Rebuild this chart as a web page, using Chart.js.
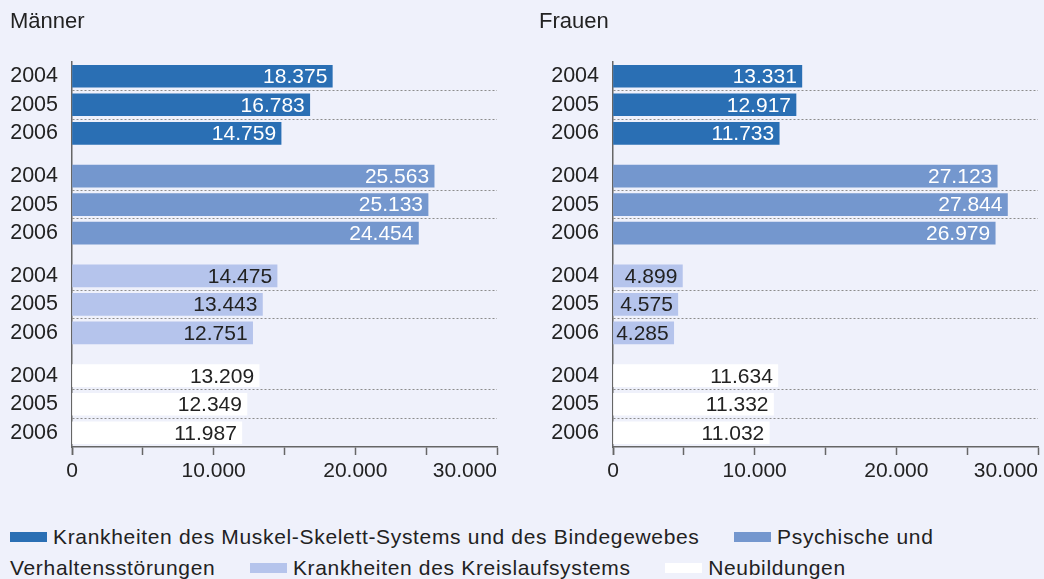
<!DOCTYPE html>
<html lang="de">
<head>
<meta charset="utf-8">
<script src="https://cdn.jsdelivr.net/npm/chart.js@4.4.0/dist/chart.umd.min.js"></script>
<style>
  body { margin: 0; width: 1044px; height: 579px; overflow: hidden; position: relative;
         background: #eff1fb; color: #222; font-family: 'Liberation Sans', Arial, sans-serif; }
  .panel { position: absolute; top: 0; height: 490px; }
  #left { left: 0; width: 520px; }
  #right { left: 532px; width: 512px; }
  #legend { position: absolute; left: 10px; top: 521px; width: 1030px; font-size: 21px;
            letter-spacing: 0.67px; line-height: 31px; }
  #legend .item { margin-left: 28px; }
  #legend .item:first-child { margin-left: 0; }
  #legend .lead { white-space: nowrap; }
  #legend .sw { display: inline-block; width: 37px; height: 10px; margin-right: 6px; vertical-align: middle; position: relative; top: -1px; }
</style>
</head>
<body>
<div class="panel" id="left"><canvas id="chartMaenner"></canvas></div>
<div class="panel" id="right"><canvas id="chartFrauen"></canvas></div>
<div id="legend"></div>
<script>
// Daten
const years = ['2004', '2005', '2006'];
const groups = [
  'Krankheiten des Muskel-Skelett-Systems und des Bindegewebes',
  'Psychische und Verhaltensstörungen',
  'Krankheiten des Kreislaufsystems',
  'Neubildungen'
];
const groupColors = ['#2a6fb4', '#7497ce', '#b5c4ec', '#ffffff'];
const valueColors = ['#ffffff', '#ffffff', '#222222', '#222222'];

const maenner = [
  [18375, 16783, 14759],
  [25563, 25133, 24454],
  [14475, 13443, 12751],
  [13209, 12349, 11987]
];
const frauen = [
  [13331, 12917, 11733],
  [27123, 27844, 26979],
  [4899, 4575, 4285],
  [11634, 11332, 11032]
];

const xMax = 30000;
const xStep = 5000;
const xLabelled = [0, 10000, 20000, 30000];

function fmt(v) {
  return String(v).replace(/\B(?=(\d{3})+(?!\d))/g, '.');
}

// Zeilen-Raster: halbe Zeilen als Slots, Jahre auf jedem zweiten Slot,
// zwischen den Gruppen ein zusaetzlicher halber Abstand
const slotLabels = [''];
const slotRef = [null];
const dividerSlots = [];
groups.forEach((g, gi) => {
  years.forEach((y, yi) => {
    slotLabels.push(y);
    slotRef.push([gi, yi]);
    if (yi < years.length - 1) {
      dividerSlots.push(slotLabels.length);
      slotLabels.push('');
      slotRef.push(null);
    }
  });
  const gap = gi < groups.length - 1 ? 2 : 1;
  for (let k = 0; k < gap; k++) { slotLabels.push(''); slotRef.push(null); }
});

function slotValues(values) {
  return slotRef.map(r => r ? values[r[0]][r[1]] : null);
}

Chart.defaults.font.family = "'Liberation Sans', Arial, sans-serif";
Chart.defaults.color = '#222';

const valueLabels = {
  id: 'valueLabels',
  afterDatasetsDraw(chart) {
    const ctx = chart.ctx;
    const meta = chart.getDatasetMeta(0);
    const data = chart.data.datasets[0].data;
    ctx.save();
    ctx.font = "21px 'Liberation Sans', Arial, sans-serif";
    ctx.textAlign = 'right';
    ctx.textBaseline = 'middle';
    meta.data.forEach((bar, i) => {
      if (data[i] == null) return;
      ctx.fillStyle = valueColors[slotRef[i][0]];
      ctx.fillText(fmt(data[i]), bar.x - 5, bar.y + 1);
    });
    ctx.restore();
  }
};

function makeChart(id, title, values, padLeft, yWidth, padRight) {
  return new Chart(document.getElementById(id), {
    type: 'bar',
    data: {
      labels: slotLabels,
      datasets: [{
        data: slotValues(values),
        backgroundColor: c => slotRef[c.dataIndex] ? groupColors[slotRef[c.dataIndex][0]] : 'transparent',
        borderWidth: 0,
        barThickness: 22
      }]
    },
    options: {
      indexAxis: 'y',
      responsive: true,
      maintainAspectRatio: false,
      animation: false,
      layout: { padding: { left: padLeft, right: padRight, top: 0, bottom: 0 } },
      plugins: {
        legend: { display: false },
        tooltip: { enabled: false },
        title: {
          display: true,
          text: title,
          align: 'start',
          color: '#222',
          font: { size: 22, weight: 'normal' },
          padding: { top: 9, bottom: 26.6 }
        }
      },
      scales: {
        y: {
          type: 'category',
          offset: false,
          grid: {
            offset: false,
            drawTicks: false,
            lineWidth: 1,
            color: c => dividerSlots.includes(c.index) ? '#8c8c8c' : 'transparent'
          },
          border: { display: true, color: '#666', width: 1.5, dash: [2, 2] },
          ticks: { autoSkip: false, padding: 14, color: '#222', font: { size: 21.5 } },
          afterFit: s => { s.width = yWidth; }
        },
        x: {
          min: 0,
          max: xMax,
          ticks: {
            stepSize: xStep,
            autoSkip: false,
            maxRotation: 0,
            align: 'inner',
            padding: 4,
            color: '#222',
            font: { size: 21 },
            // erster (leerer) Tick nimmt die linke Ausrichtung, damit "0" zentriert bleibt
            callback: (v, i) => i === 0 ? '' : (xLabelled.includes(v) ? fmt(v) : '')
          },
          afterBuildTicks: s => { s.ticks.unshift({ value: 0 }); },
          grid: { drawOnChartArea: false, drawTicks: true, tickLength: 8, tickColor: '#666', tickWidth: 1.5 },
          border: { color: '#666', width: 1.5 },
          afterFit: s => { s.height = 43; }
        }
      }
    },
    plugins: [valueLabels]
  });
}

makeChart('chartMaenner', 'Männer', maenner, 10, 62, 23);
makeChart('chartFrauen', 'Frauen', frauen, 7, 74, 6);

// Legende
const legend = document.getElementById('legend');
groups.forEach((g, gi) => {
  const item = document.createElement('span');
  item.className = 'item';
  const words = g.split(' ');
  const lead = document.createElement('span');
  lead.className = 'lead';
  const sw = document.createElement('span');
  sw.className = 'sw';
  sw.style.background = groupColors[gi];
  lead.appendChild(sw);
  lead.appendChild(document.createTextNode(words[0]));
  item.appendChild(lead);
  if (words.length > 1) item.appendChild(document.createTextNode(' ' + words.slice(1).join(' ')));
  legend.appendChild(item);
  legend.appendChild(document.createTextNode(' '));
});
</script>
</body>
</html>
